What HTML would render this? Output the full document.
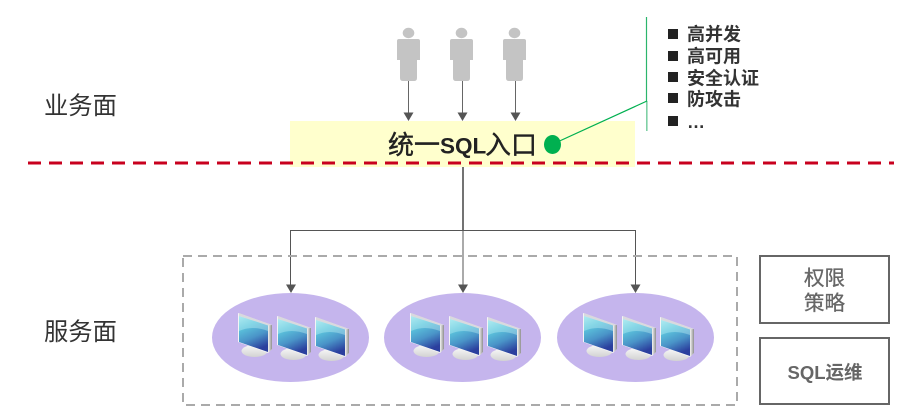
<!DOCTYPE html>
<html><head><meta charset="utf-8"><style>
html,body{margin:0;padding:0;background:#fff;width:904px;height:419px;overflow:hidden}
svg{display:block}
text{font-family:"Liberation Sans","Noto Sans CJK SC",sans-serif}
</style></head><body>
<svg width="904" height="419" viewBox="0 0 904 419" xmlns="http://www.w3.org/2000/svg">
<defs>
<linearGradient id="scr" x1="0.1" y1="0" x2="0.45" y2="1"><stop offset="0" stop-color="#9be4ec"/><stop offset="0.3" stop-color="#5cc4dc"/><stop offset="0.65" stop-color="#4a94c8"/><stop offset="1" stop-color="#2b3f9e"/></linearGradient>
<linearGradient id="side" x1="0" y1="0" x2="1" y2="0"><stop offset="0" stop-color="#f4f4f4"/><stop offset="1" stop-color="#8f8f8f"/></linearGradient>
<linearGradient id="base" x1="0" y1="0" x2="0" y2="1"><stop offset="0" stop-color="#f7f7f7"/><stop offset="1" stop-color="#d2d2d2"/></linearGradient>
<g id="mon">
<ellipse cx="16.500" cy="38" rx="13" ry="6" fill="url(#base)"/>
<polygon points="0,0 34,12 34,36 30,40 0,29" fill="#f4f4f6"/>
<polygon points="30,11 34,12 34,36 30,40" fill="url(#side)"/>
<polygon points="1,0 34,12 30,12.500 1,3" fill="#d9d9de"/>
<polygon points="1,3 30,12.500 30,39 1,29" fill="url(#scr)"/>
<path d="M1,3 L30,12.500 L30,18 Q14,12 1,18 Z" fill="#c4f0f4" opacity=".4"/>
</g>
<g id="srv">
<ellipse cx="290.5" cy="337.5" rx="78.5" ry="44.5" fill="#c5b5ed"/>
<use href="#mon" x="238" y="313"/>
<use href="#mon" x="277" y="316"/>
<use href="#mon" x="315" y="317"/>
</g>
<g id="usr" fill="#c4c4c4">
<ellipse cx="408.5" cy="33" rx="5.8" ry="5.200"/>
<path d="M399 39H418Q420 39 420 41V60H417V78Q417 81 414 81H403Q400 81 400 78V60H397V41Q397 39 399 39Z"/>
</g>
</defs>

<use href="#usr"/>
<use href="#usr" x="53"/>
<use href="#usr" x="106"/>

<rect x="290" y="121" width="345" height="46" fill="#ffffcd"/>

<g stroke="#666" stroke-width="1" fill="none">
<path d="M408.500 81V113M462.500 81V113M515.500 81V113"/>
<path d="M290.500 286V230.500H635.500V286M463 230V286" stroke="#555"/>
</g>
<line x1="463" y1="167" x2="463" y2="230" stroke="#444" stroke-width="1.500"/>
<g fill="#555">
<path d="M403.500 112.500H413.500L408.500 121ZM457.500 112.500H467.500L462.500 121ZM510.500 112.500H520.500L515.500 121Z"/>
<path d="M286 284.500H296L291 293ZM458 284.500H468L463 293ZM630.500 284.500H640.500L635.500 293Z"/>
</g>

<line x1="28" y1="163" x2="894" y2="163" stroke="#c8001e" stroke-width="3" stroke-dasharray="13 8"/>

<line x1="646.500" y1="17" x2="646.500" y2="101" stroke="#2bb56c" stroke-width="1.200"/>
<line x1="646.800" y1="101" x2="646.800" y2="131" stroke="#7fd0a5" stroke-width="1.600"/>
<line x1="553" y1="144" x2="647" y2="101" stroke="#00b050" stroke-width="1.200"/>
<ellipse cx="552.500" cy="144.500" rx="8.500" ry="9.500" fill="#00b050"/>

<g fill="#222" font-size="26">
<text x="388" y="154" stroke="#222" stroke-width=".4">统一</text>
<text x="440" y="153.500" font-size="22.500" font-weight="700">SQL</text>
<text x="485" y="154" stroke="#222" stroke-width=".4">入口</text>
</g>

<text x="44" y="114" font-size="24.300" fill="#333">业务面</text>
<text x="44" y="340" font-size="24.300" fill="#333">服务面</text>

<g fill="#222">
<rect x="668" y="29" width="10" height="10"/>
<rect x="668" y="51" width="10" height="10"/>
<rect x="668" y="72" width="10" height="10"/>
<rect x="668" y="93" width="10" height="10"/>
<rect x="668" y="116" width="10" height="10"/>
</g>
<g font-size="18" font-weight="700" fill="#333">
<text x="687" y="40.500">高并发</text>
<text x="687" y="62.500">高可用</text>
<text x="687" y="84.500">安全认证</text>
<text x="687" y="105.500">防攻击</text>
<text x="687" y="128">…</text>
</g>

<rect x="183" y="256" width="554" height="149" fill="none" stroke="#aaa" stroke-width="2" stroke-dasharray="9 6"/>
<use href="#srv"/>
<use href="#srv" x="172"/>
<use href="#srv" x="345"/>

<rect x="760" y="256" width="129" height="67" fill="none" stroke="#666" stroke-width="2"/>
<rect x="760" y="338" width="129" height="66" fill="none" stroke="#666" stroke-width="2"/>
<g font-size="20.500" fill="#666" text-anchor="middle" stroke="#666" stroke-width=".3">
<text x="824.500" y="285">权限</text>
<text x="824.500" y="310">策略</text>
</g>
<text x="825" y="379" font-size="18.500" font-weight="700" fill="#666" text-anchor="middle">SQL运维</text>
</svg>
</body></html>
